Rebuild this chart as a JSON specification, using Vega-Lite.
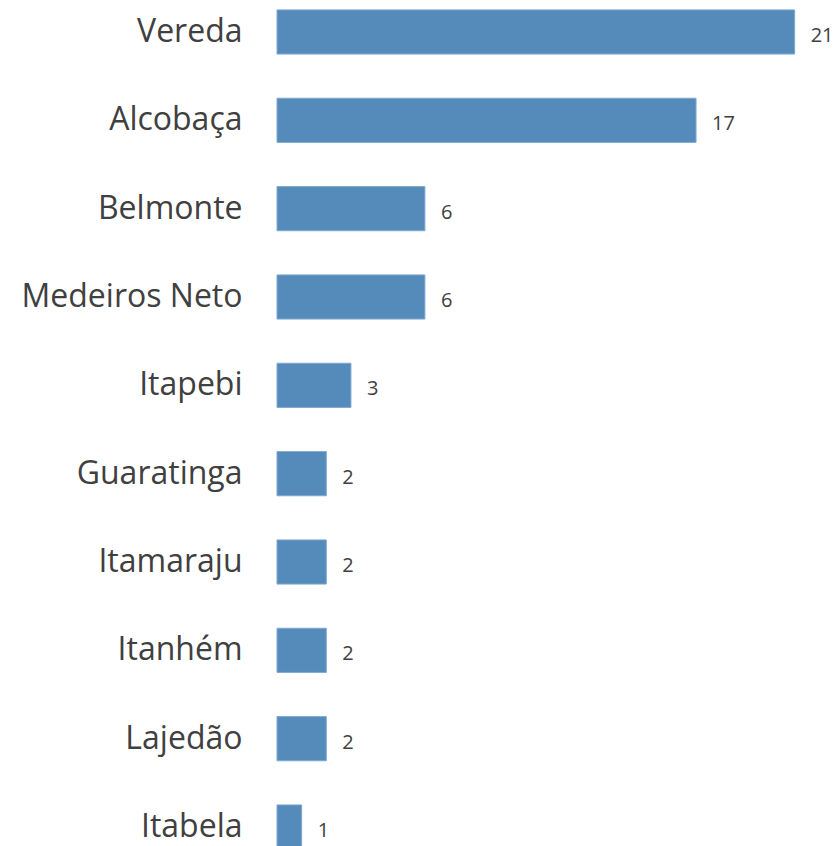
{
  "$schema": "https://vega.github.io/schema/vega-lite/v6.json",
  "autosize": "none",
  "padding": {"left": 277, "top": 0, "right": 0, "bottom": 0},
  "width": 562,
  "height": 859,
  "background": "white",
  "config": {"view": {"stroke": null}},
  "data": {"values": [
    {"cidade": "Vereda", "n": 21},
    {"cidade": "Alcobaça", "n": 17},
    {"cidade": "Belmonte", "n": 6},
    {"cidade": "Medeiros Neto", "n": 6},
    {"cidade": "Itapebi", "n": 3},
    {"cidade": "Guaratinga", "n": 2},
    {"cidade": "Itamaraju", "n": 2},
    {"cidade": "Itanhém", "n": 2},
    {"cidade": "Lajedão", "n": 2},
    {"cidade": "Itabela", "n": 1}
  ]},
  "encoding": {
    "y": {"field": "cidade", "type": "nominal", "sort": null,
      "scale": {"paddingInner": 0.5, "paddingOuter": 0.112},
      "axis": {"title": null, "domain": false, "ticks": false, "labelPadding": 35, "labelLimit": 400, "labelOffset": 0,
        "labelFont": "Open Sans", "labelFontSize": 32, "labelColor": "#404040", "labelFontWeight": "normal", "labelBaseline": "middle"}},
    "x": {"field": "n", "type": "quantitative",
      "scale": {"domain": [0, 22.8], "nice": false, "zero": true},
      "axis": null}
  },
  "layer": [
    {"mark": {"type": "bar", "color": "#558bba", "stroke": "#7ea9d0", "strokeWidth": 1}},
    {"mark": {"type": "text", "align": "left", "baseline": "middle", "dx": 16, "dy": 4,
      "font": "Open Sans", "fontSize": 20, "color": "#404040"},
     "encoding": {"text": {"field": "n", "type": "quantitative"}}}
  ]
}
